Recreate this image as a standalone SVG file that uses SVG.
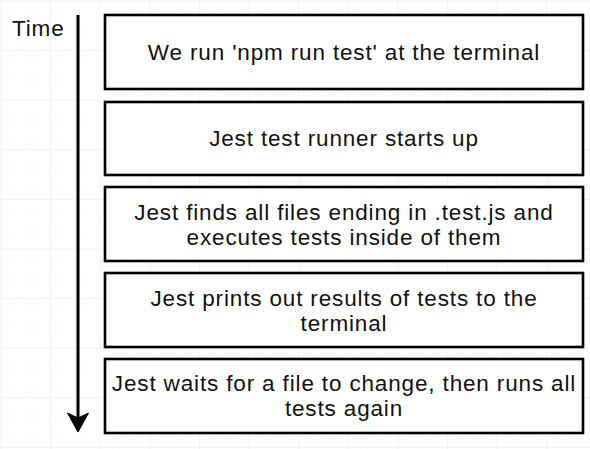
<svg xmlns="http://www.w3.org/2000/svg" width="590" height="449" viewBox="0 0 590 449">
  <defs>
    <pattern id="minor" x="0.5" y="0.5" width="12.4" height="12.4" patternUnits="userSpaceOnUse">
      <path d="M12.4 0 L0 0 0 12.4" fill="none" stroke="#f7f7f7" stroke-width="1"/>
    </pattern>
    <pattern id="major" x="0.5" y="0.5" width="49.6" height="49.6" patternUnits="userSpaceOnUse">
      <path d="M49.6 0 L0 0 0 49.6" fill="none" stroke="#ececec" stroke-width="1"/>
    </pattern>
  </defs>
  <style>
    .box { fill: #ffffff; stroke: #000000; stroke-width: 2.6; }
    .lbl { font-family: "Liberation Sans", Arial, Helvetica, sans-serif; font-size: 22.5px; letter-spacing: 0.85px; fill: #111111; text-anchor: middle; }
    .time { font-family: "Liberation Sans", Arial, Helvetica, sans-serif; font-size: 22.5px; letter-spacing: 0.85px; fill: #111111; }
  </style>
  <rect width="590" height="449" fill="#ffffff"/>
  <rect width="590" height="449" fill="url(#minor)"/>
  <rect width="590" height="449" fill="url(#major)"/>

  <text class="time" x="12" y="36">Time</text>

  <g id="connectors">
    <line x1="78" y1="15" x2="78" y2="420" stroke="#000000" stroke-width="3"/>
    <path d="M78 432 L67.5 413 L78 418 L88.5 413 Z" fill="#000000" stroke="#000000" stroke-width="1"/>
  </g>

  <g id="step1">
    <rect class="box" x="105" y="15" width="478" height="74"/>
    <text class="lbl" x="344" y="60">We run 'npm run test' at the terminal</text>
  </g>
  <g id="step2">
    <rect class="box" x="105" y="102" width="478" height="73"/>
    <text class="lbl" x="344" y="146">Jest test runner starts up</text>
  </g>
  <g id="step3">
    <rect class="box" x="105" y="187" width="478" height="74"/>
    <text class="lbl" x="344" y="220">Jest finds all files ending in .test.js and</text>
    <text class="lbl" x="344" y="245">executes tests inside of them</text>
  </g>
  <g id="step4">
    <rect class="box" x="105" y="273" width="478" height="74"/>
    <text class="lbl" x="344" y="306">Jest prints out results of tests to the</text>
    <text class="lbl" x="344" y="331">terminal</text>
  </g>
  <g id="step5">
    <rect class="box" x="105" y="359" width="478" height="74"/>
    <text class="lbl" x="344" y="391">Jest waits for a file to change, then runs all</text>
    <text class="lbl" x="344" y="416">tests again</text>
  </g>
</svg>
